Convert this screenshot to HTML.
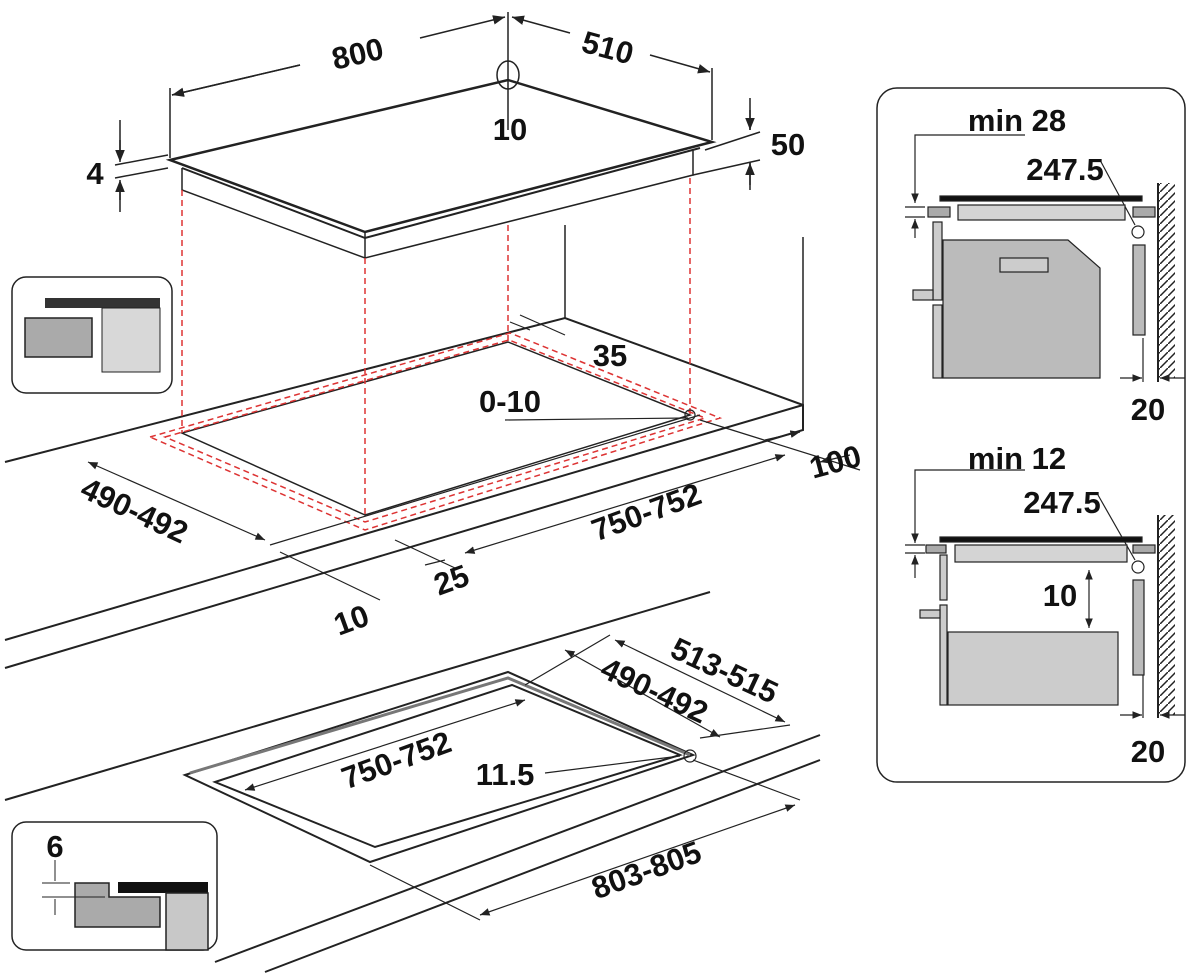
<!DOCTYPE html>
<html><head><meta charset="utf-8"><style>
body{margin:0;background:#fff}
svg{display:block}
text{font-family:"Liberation Sans",sans-serif;font-weight:bold;font-size:31px;fill:#111}
</style></head><body>
<svg width="1200" height="974" viewBox="0 0 1200 974" xmlns="http://www.w3.org/2000/svg">
<defs>
<marker id="a" viewBox="0 0 10 10" refX="10" refY="5" markerWidth="8" markerHeight="8" orient="auto-start-reverse"><path d="M0,1 L10,5 L0,9 z" fill="#222"/></marker>
<pattern id="h" width="8" height="8" patternUnits="userSpaceOnUse"><path d="M0,8 L8,0" stroke="#222" stroke-width="1.5"/></pattern>
</defs>
<g stroke="#222" fill="none" stroke-width="1.5">
<path d="M170,160 L508,80 L712,142 L365,232 Z" stroke-width="2.5"/>
<path d="M182,168 L182,190 L365,258 L693,175 L693,150"/>
<path d="M365,232 L365,258"/>
<path d="M182,168 L365,238 L700,148" stroke-width="2"/>
<path d="M170,158 L170,88 M712,140 L712,68 M508,130 L508,12"/>
<path d="M172,95 L300,65 M420,38 L505,17" marker-end="url(#a)"/>
<path d="M300,65 L172,95" marker-end="url(#a)"/>
<path d="M512,17 L570,33" marker-start="url(#a)"/>
<path d="M650,55 L710,72" marker-end="url(#a)"/>
<ellipse cx="508" cy="75" rx="11" ry="14"/>
<path d="M115,165 L168,155 M115,178 L168,168 M120,120 L120,160 M120,212 L120,182" />
<path d="M120,140 L120,162" marker-end="url(#a)"/><path d="M120,200 L120,180" marker-end="url(#a)"/>
<path d="M705,150 L760,132 M693,175 L760,160 M750,98 L750,130 M750,190 L750,162"/>
<path d="M750,110 L750,130" marker-end="url(#a)"/><path d="M750,185 L750,163" marker-end="url(#a)"/>
<path d="M565,225 L565,318 M803,237 L803,405"/>
<path d="M5,462 L565,318 L803,405 L803,430 L5,668 M803,405 L5,640" stroke-width="2"/>
<path d="M182,433 L508,342 L690,415 L365,515 Z"/>
</g>
<g stroke="#d33" fill="none" stroke-width="1.5" stroke-dasharray="6,4">
<path d="M182,190 L182,433 M365,258 L365,515 M508,225 L508,342 M690,178 L690,415"/>
<path d="M150,437 L510,333 L720,418 L365,530 Z"/>
<path d="M165,437 L509,340 L705,418 L365,522 Z"/>
</g>
<g stroke="#222" fill="none" stroke-width="1.2">
<circle cx="690" cy="415" r="5"/>
<path d="M505,420 L688,418"/>
<path d="M510,322 L530,330 M520,315 L565,335"/>
<path d="M88,462 L265,540" marker-start="url(#a)" marker-end="url(#a)"/>
<path d="M465,553 L785,455" marker-start="url(#a)" marker-end="url(#a)"/>
<path d="M270,545 L700,415 M280,552 L380,600 M395,540 L455,568 M425,565 L445,560"/>
<path d="M700,420 L860,470 M765,440 L800,432" marker-end="url(#a)"/>
<path d="M850,455 L820,462" marker-end="url(#a)"/>
</g>
<text x="360" y="64" transform="rotate(-13 360 64)" text-anchor="middle">800</text>
<text x="605" y="58" transform="rotate(15 605 58)" text-anchor="middle">510</text>
<text x="510" y="140" text-anchor="middle">10</text>
<text x="95" y="184" text-anchor="middle">4</text>
<text x="788" y="155" text-anchor="middle">50</text>
<text x="610" y="366" text-anchor="middle">35</text>
<text x="510" y="412" text-anchor="middle">0-10</text>
<text x="130" y="520" transform="rotate(25 130 520)" text-anchor="middle">490-492</text>
<text x="650" y="522" transform="rotate(-20 650 522)" text-anchor="middle">750-752</text>
<text x="455" y="590" transform="rotate(-20 455 590)" text-anchor="middle">25</text>
<text x="355" y="630" transform="rotate(-20 355 630)" text-anchor="middle">10</text>
<text x="838" y="472" transform="rotate(-15 838 472)" text-anchor="middle">100</text>
<g stroke="#222" fill="none" stroke-width="2">
<path d="M5,800 L710,592 M215,962 L820,735 M265,972 L820,760"/>
<path d="M185,775 L508,672 L693,755 L370,862 Z"/>
<path d="M215,782 L512,685 L680,755 L375,847 Z"/>
<path d="M190,773 L508,678 L690,755" stroke="#777" stroke-width="3"/>
</g>
<g stroke="#222" fill="none" stroke-width="1.2">
<circle cx="690" cy="756" r="6"/>
<path d="M615,640 L785,722" marker-start="url(#a)" marker-end="url(#a)"/>
<path d="M565,650 L720,737" marker-start="url(#a)" marker-end="url(#a)"/>
<path d="M245,790 L525,700" marker-start="url(#a)" marker-end="url(#a)"/>
<path d="M480,915 L795,805" marker-start="url(#a)" marker-end="url(#a)"/>
<path d="M545,773 L680,756 M693,760 L800,800 M370,865 L480,920 M525,685 L610,635 M700,738 L790,725"/>
</g>
<text x="720" y="680" transform="rotate(25 720 680)" text-anchor="middle">513-515</text>
<text x="650" y="700" transform="rotate(25 650 700)" text-anchor="middle">490-492</text>
<text x="400" y="770" transform="rotate(-20 400 770)" text-anchor="middle">750-752</text>
<text x="505" y="785" text-anchor="middle">11.5</text>
<text x="650" y="880" transform="rotate(-20 650 880)" text-anchor="middle">803-805</text>
<rect x="12" y="277" width="160" height="116" rx="14" fill="#fff" stroke="#222" stroke-width="1.5"/>
<rect x="45" y="298" width="115" height="10" fill="#333"/>
<rect x="102" y="308" width="58" height="64" fill="#d8d8d8" stroke="#222" stroke-width="1"/>
<rect x="25" y="318" width="67" height="39" fill="#aaa" stroke="#222" stroke-width="1.5"/>
<rect x="12" y="822" width="205" height="128" rx="14" fill="#fff" stroke="#222" stroke-width="1.5"/>
<rect x="118" y="882" width="90" height="11" fill="#111"/>
<path d="M75,883 L109,883 L109,897 L160,897 L160,927 L75,927 Z" fill="#aaa" stroke="#222" stroke-width="1.5"/>
<rect x="166" y="893" width="42" height="57" fill="#c8c8c8" stroke="#222" stroke-width="1.5"/>
<g stroke="#222" stroke-width="1"><path d="M42,883 L70,883 M42,897 L105,897 M55,860 L55,881 M55,915 L55,899"/></g>
<text x="55" y="857" text-anchor="middle" font-size="27">6</text>
<rect x="877" y="88" width="308" height="694" rx="20" fill="#fff" stroke="#222" stroke-width="1.5"/>
<g stroke="#222" stroke-width="1.2" fill="none">
<path d="M1025,135 L915,135 L915,203" marker-end="url(#a)"/>
<path d="M905,207 L925,207 M905,217 L925,217" />
<path d="M915,238 L915,219" marker-end="url(#a)"/>
<path d="M1025,470 L915,470 L915,543" marker-end="url(#a)"/>
<path d="M905,545 L925,545 M905,553 L925,553"/>
<path d="M915,578 L915,555" marker-end="url(#a)"/>
<path d="M1100,160 L1135,225 M1098,495 L1135,560"/>
<path d="M1158,183 L1158,382 M1158,515 L1158,718" stroke-width="2"/>
<path d="M1143,338 L1143,382 M1143,675 L1143,718"/>
<path d="M1120,378 L1142,378" marker-end="url(#a)"/><path d="M1185,378 L1160,378" marker-end="url(#a)"/>
<path d="M1120,715 L1142,715" marker-end="url(#a)"/><path d="M1185,715 L1160,715" marker-end="url(#a)"/>
<path d="M1089,570 L1089,628" marker-start="url(#a)" marker-end="url(#a)"/>
</g>
<rect x="1159" y="183" width="16" height="195" fill="url(#h)"/>
<rect x="1159" y="515" width="16" height="200" fill="url(#h)"/>
<g stroke="#222" stroke-width="1.2">
<rect x="940" y="196" width="202" height="5" fill="#111"/>
<rect x="958" y="205" width="167" height="15" fill="#d4d4d4"/>
<rect x="928" y="207" width="22" height="10" fill="#aaa"/>
<rect x="1133" y="207" width="22" height="10" fill="#aaa"/>
<circle cx="1138" cy="232" r="6" fill="#fff"/>
<rect x="933" y="222" width="9" height="78" fill="#ccc"/>
<rect x="933" y="305" width="9" height="73" fill="#ccc"/>
<path d="M943,240 L1068,240 L1100,268 L1100,378 L943,378 Z" fill="#bbb"/>
<rect x="1000" y="258" width="48" height="14" fill="#ccc"/>
<rect x="913" y="290" width="20" height="10" fill="#ccc"/>
<rect x="1133" y="245" width="12" height="90" fill="#bbb"/>
<rect x="940" y="537" width="202" height="5" fill="#111"/>
<rect x="955" y="545" width="172" height="17" fill="#d4d4d4"/>
<rect x="926" y="545" width="20" height="8" fill="#aaa"/>
<rect x="1133" y="545" width="22" height="8" fill="#aaa"/>
<circle cx="1138" cy="567" r="6" fill="#fff"/>
<rect x="940" y="555" width="7" height="45" fill="#ccc"/>
<rect x="940" y="605" width="7" height="100" fill="#ccc"/>
<rect x="948" y="632" width="170" height="73" fill="#ccc"/>
<rect x="920" y="610" width="20" height="8" fill="#ccc"/>
<rect x="1133" y="580" width="11" height="95" fill="#bbb"/>
</g>
<text x="1017" y="131" text-anchor="middle">min 28</text>
<text x="1065" y="180" text-anchor="middle">247.5</text>
<text x="1148" y="420" text-anchor="middle">20</text>
<text x="1017" y="469" text-anchor="middle">min 12</text>
<text x="1062" y="513" text-anchor="middle">247.5</text>
<text x="1060" y="606" text-anchor="middle">10</text>
<text x="1148" y="762" text-anchor="middle">20</text>
</svg>
</body></html>
